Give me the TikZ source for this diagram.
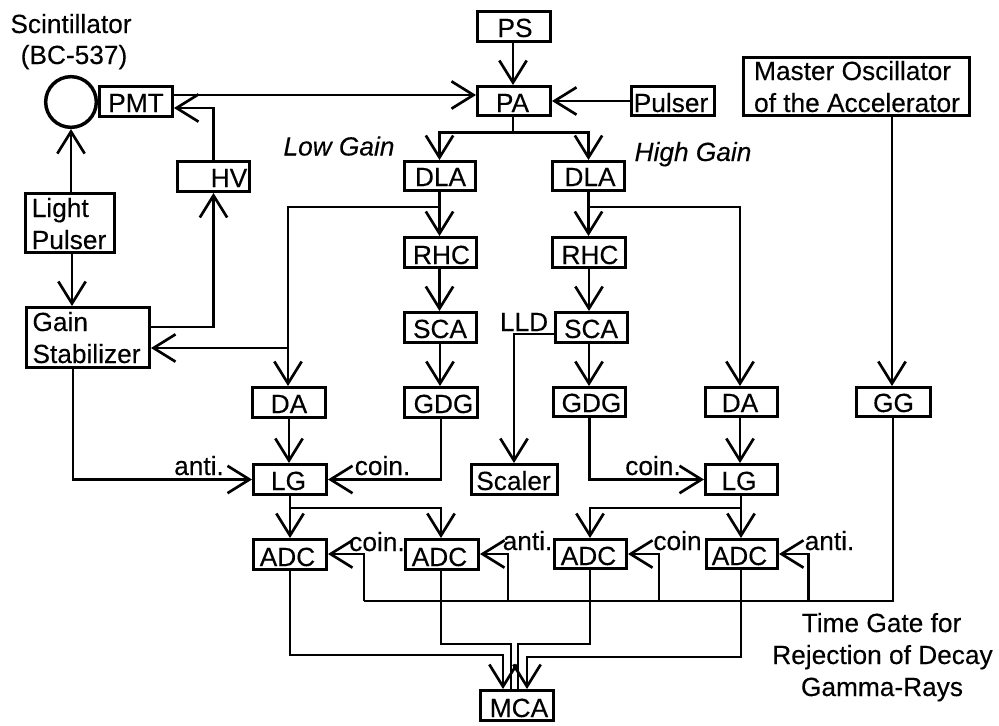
\documentclass[tikz,border=0pt]{standalone}
\usepackage{fontspec}
\setmainfont[FakeBold=0.25]{Liberation Sans}
\usetikzlibrary{arrows.meta}
\tikzset{
  diagramfont/.style={font=\fontsize{19.7}{24}\selectfont},
  blockbox/.style={draw,rectangle,line width=2.6pt,inner sep=0pt,diagramfont},
  freelabel/.style={inner sep=0pt,anchor=base,diagramfont},
  wire/.style={line width=1.7pt},
  arr/.style={wire,-{Straight Barb[length=16.5pt,width=20.5pt,line width=2pt]}},
}
\newcommand\bx[8]{%
  \pgfmathsetmacro\bxcx{(#2+#4)/2}%
  \pgfmathsetmacro\bxcy{(#3+#5)/2}%
  \pgfmathsetlengthmacro\bxdx{(#6-\bxcx)*0.75pt}%
  \pgfmathsetlengthmacro\bxdy{(#7-1-\bxcy)*0.75pt}%
  \node[blockbox,minimum width={(#4-#2-3.5)*0.75pt},minimum height={(#5-#3-3.5)*0.75pt}] (#1) at (\bxcx,\bxcy)
    {\raisebox{-\bxdy}[0pt][0pt]{\kern\bxdx\makebox[0pt]{#8}\kern-\bxdx}};%
}
\newcommand\twolines[2]{\vbox{\baselineskip=24pt\lineskiplimit=-30pt\hbox{#1}\hbox{#2}}}
\begin{document}
\begin{tikzpicture}[x=0.75pt,y=-0.75pt]
\useasboundingbox (0,0) rectangle (999,725);
% blocks
\node[draw,circle,line width=2.6pt,inner sep=0pt,minimum size=38pt] (SC) at (71,102) {};
\bx{PS}{476}{10}{552}{43}{515}{38}{PS}
\bx{PA}{476}{85}{552}{117}{512.5}{113}{PA}
\bx{PMT}{98}{85}{174}{118}{136}{113}{PMT}
\bx{HV}{176}{160}{251}{193}{229}{188}{HV}
\bx{LP}{24}{192}{116}{254}{69}{250}{\twolines{Light}{Pulser}}
\bx{GS}{25}{306}{151}{369}{86.5}{364}{\twolines{Gain}{Stabilizer}}
\bx{Pulser}{630}{85}{716}{117}{671}{113}{Pulser}
\bx{MO}{742}{56}{971}{117}{857}{113}{\twolines{Master Oscillator}{of the Accelerator}}
\bx{DLAL}{403}{160}{477}{192}{440.5}{187}{DLA}
\bx{RHCL}{403}{236}{478}{269}{441.5}{265}{RHC}
\bx{SCAL}{403}{311}{478}{344}{440}{339}{SCA}
\bx{GDGL}{403}{386}{479}{419}{443.5}{414}{GDG}
\bx{DAL}{251}{386}{327}{419}{289}{414}{DA}
\bx{LGL}{252}{463}{328}{496}{288.5}{491}{LG}
\bx{ADCa}{252}{538}{328}{571}{287.5}{567}{ADC}
\bx{ADCb}{404}{538}{480}{571}{439.5}{567}{ADC}
\bx{Scaler}{470}{463}{559}{496}{513.5}{491}{Scaler}
\bx{DLAR}{551}{160}{626}{192}{590}{187}{DLA}
\bx{RHCR}{551}{236}{627}{269}{590}{265}{RHC}
\bx{SCAR}{554}{311}{629}{344}{591}{339}{SCA}
\bx{GDGR}{552}{386}{627}{418}{591.5}{413}{GDG}
\bx{DAR}{704}{386}{779}{418}{740}{413}{DA}
\bx{LGR}{704}{463}{779}{496}{739}{491}{LG}
\bx{ADCc}{553}{538}{628}{570}{588.5}{566}{ADC}
\bx{ADCd}{705}{538}{779}{570}{739.5}{566}{ADC}
\bx{GG}{855}{386}{932}{418}{893.5}{413}{GG}
\bx{MCA}{479}{689}{555}{722}{519}{718}{MCA}
% free labels
\node[freelabel] (t1) at (71,33) {Scintillator};
\node[freelabel] (t2) at (74,64) {(BC-537)};
\node[freelabel] (t3) at (339,155.5) {\itshape Low Gain};
\node[freelabel] (t4) at (693,161) {\itshape High Gain};
\node[freelabel] (t5) at (524,331) {LLD};
\node[freelabel] (t6) at (199,475) {anti.};
\node[freelabel] (t7) at (382.5,475) {coin.};
\node[freelabel] (t8) at (653,475) {coin.};
\node[freelabel] (t9) at (377,551) {coin.};
\node[freelabel] (t10) at (527.5,550) {anti.};
\node[freelabel] (t11) at (677.5,550) {coin};
\node[freelabel] (t12) at (829.5,550) {anti.};
\node[freelabel] (t13) at (881.5,632) {Time Gate for};
\node[freelabel] (t14) at (882.5,664) {Rejection of Decay};
\node[freelabel] (t15) at (882,696) {Gamma-Rays};
% junctions
\coordinate (pab) at (513,132.5);
\coordinate (dlLj) at (439.5,207);
\coordinate (dlLk) at (288,348);
\coordinate (dlRj) at (588.5,207);
\coordinate (lgLj) at (290,508);
\coordinate (lgRj) at (741,508);
\coordinate (bus) at (893,601);
\coordinate (busa) at (364,601);
\coordinate (busb) at (508,601);
\coordinate (busc) at (659,601);
\coordinate (busd) at (808.5,601);
% top
\draw[arr] (PS.south -| 513,0) -- (PA.north -| 513,0);
\draw[arr] (PMT.east |- 0,95) -- (PA.west |- 0,95);
\draw[arr] (Pulser.west) -- (PA.east);
\draw[wire] (PA.south -| pab) -- (pab);
\draw[arr] (pab) -| (DLAL.north -| 439.5,0);
\draw[arr] (pab) -| (DLAR.north -| 588.5,0);
% left
\draw[arr] (LP.north -| SC.south) -- (SC.south);
\draw[arr] (LP.south -| 72,0) -- (GS.north -| 72,0);
\draw[arr] (GS.east |- 0,327) -| (HV.south);
\draw[arr] (HV.north) |- (PMT.east |- 0,108);
\draw[arr] (GS.south -| 73,0) |- (LGL.west);
% low gain chain
\draw[arr] (DLAL.south -| 439.5,0) -- (RHCL.north -| 439.5,0);
\draw[arr] (RHCL.south -| 439.5,0) -- (SCAL.north -| 439.5,0);
\draw[arr] (SCAL.south -| 440,0) -- (GDGL.north -| 440,0);
\draw[arr] (GDGL.south -| 441,0) |- (LGL.east);
\draw[arr] (dlLj) -| (DAL.north -| 288,0);
\draw[arr] (dlLk) -- (GS.east |- dlLk);
\draw[arr] (DAL.south -| 289,0) -- (LGL.north -| 289,0);
\draw[arr] (LGL.south -| 290,0) -- (ADCa.north -| 290,0);
\draw[arr] (lgLj) -| (ADCb.north -| 441,0);
% high gain chain
\draw[arr] (DLAR.south -| 588.5,0) -- (RHCR.north -| 588.5,0);
\draw[arr] (RHCR.south -| 589,0) -- (SCAR.north -| 589,0);
\draw[arr] (SCAR.south -| 589,0) -- (GDGR.north -| 589,0);
\draw[arr] (GDGR.south -| 589.5,0) |- (LGR.west);
\draw[wire] (SCAR.west |- 0,334) -| (514,420);
\draw[arr] (514,420) -- (Scaler.north -| 514,0);
\draw[arr] (dlRj) -| (DAR.north -| 740,0);
\draw[arr] (DAR.south -| 740,0) -- (LGR.north -| 740,0);
\draw[arr] (LGR.south -| 741,0) -- (ADCd.north -| 741,0);
\draw[arr] (lgRj) -| (ADCc.north -| 590,0);
% time gate
\draw[arr] (MO.south -| 892,0) -- (GG.north -| 892,0);
\draw[wire] (GG.south -| bus) -- (bus) -- (busa);
\draw[arr] (busa) |- (ADCa.east |- 0,554);
\draw[arr] (busb) |- (ADCb.east |- 0,554);
\draw[arr] (busc) |- (ADCc.east |- 0,554);
\draw[arr] (busd) |- (ADCd.east |- 0,554);
% to MCA
\draw[arr] (ADCa.south -| 290,0) |- (503,655) -- (MCA.north -| 503,0);
\draw[wire] (ADCb.south -| 441,0) |- (511,644) -- (MCA.north -| 511,0);
\draw[wire] (ADCc.south -| 590,0) |- (518,644) -- (MCA.north -| 518,0);
\draw[arr] (ADCd.south -| 741,0) |- (527,657) -- (MCA.north -| 527,0);
\end{tikzpicture}
\end{document}
